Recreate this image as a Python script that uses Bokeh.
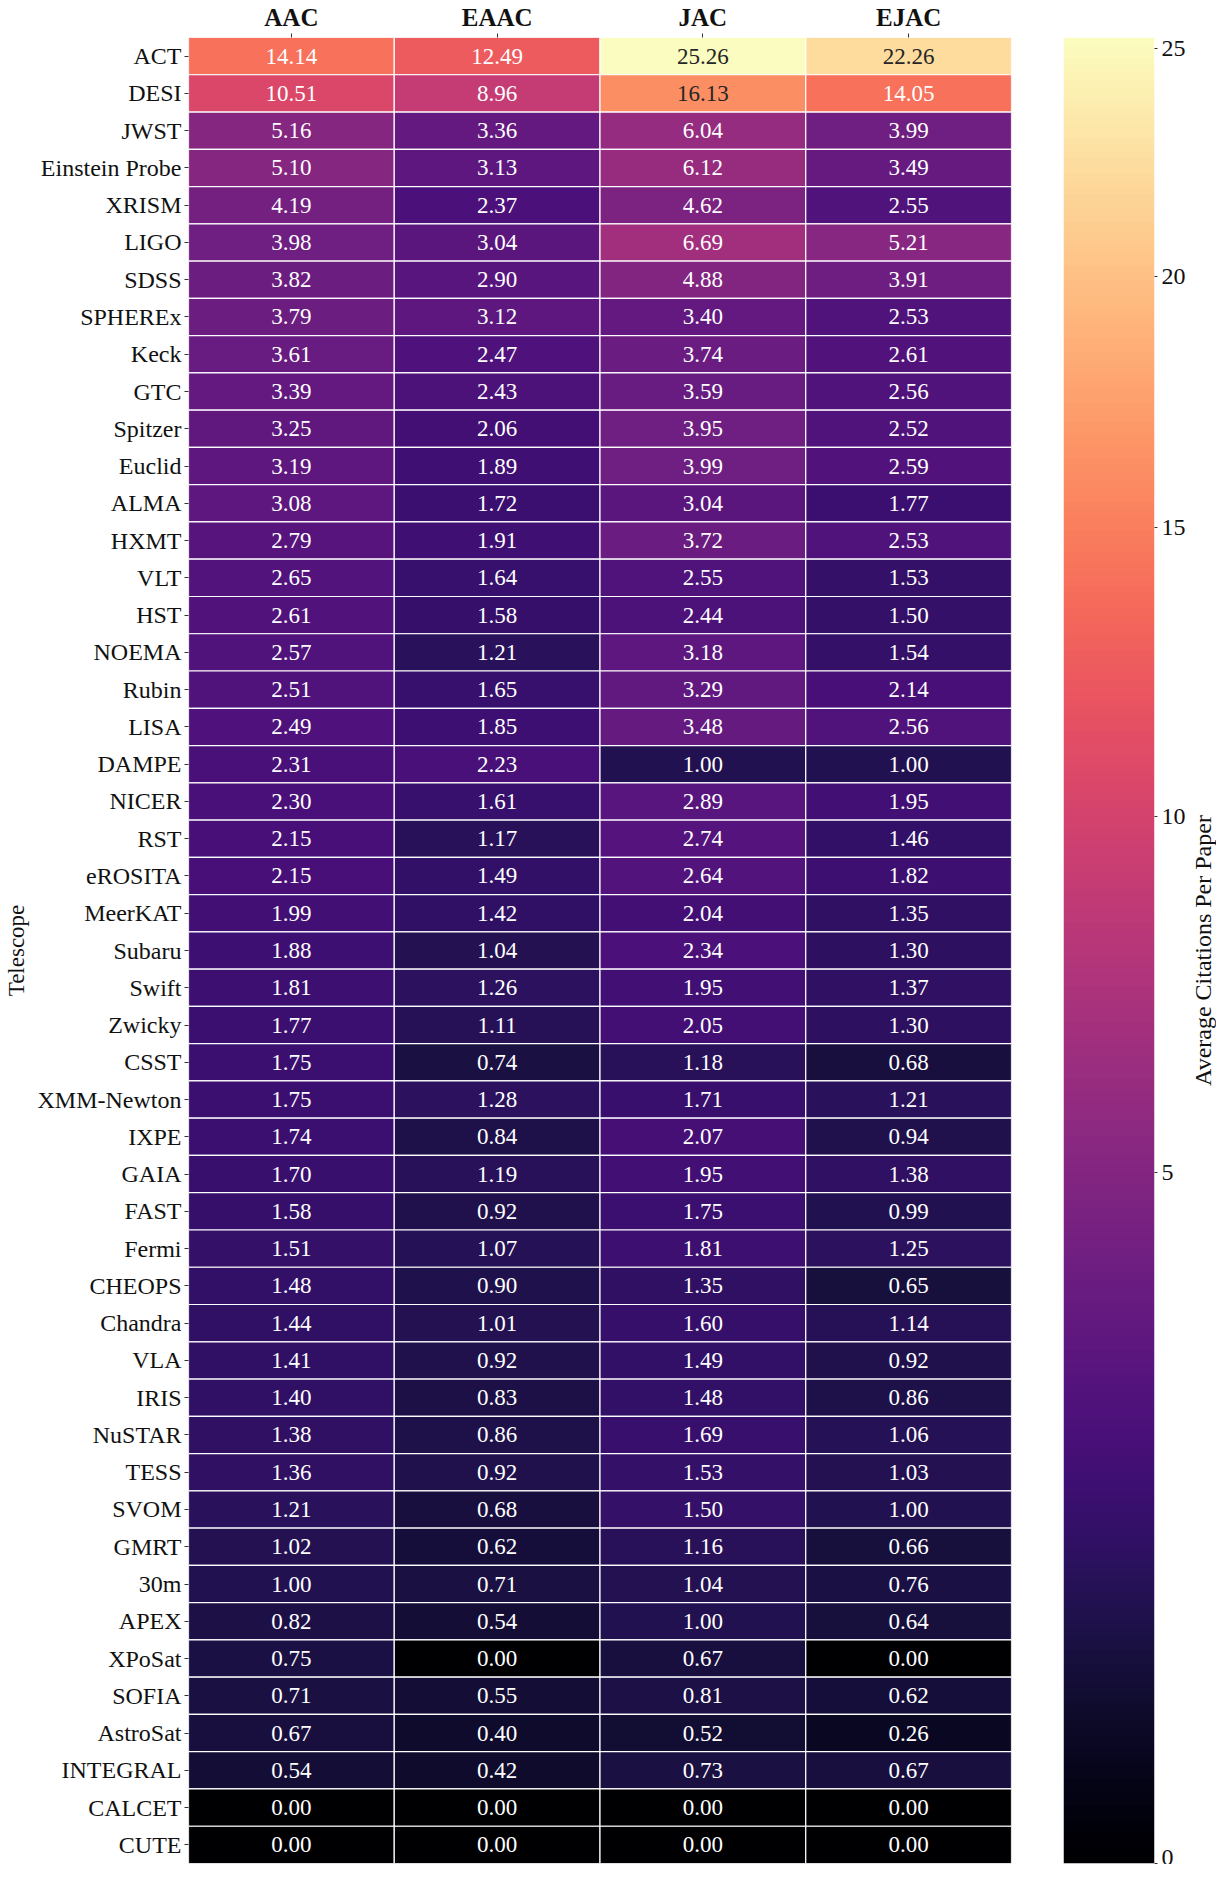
import math
import numpy as np
from bokeh.plotting import figure
from bokeh.layouts import row
from bokeh.models import ColumnDataSource, LinearColorMapper, FixedTicker, CustomJSTickFormatter
from bokeh.palettes import Magma256
from bokeh.core.properties import value
from bokeh.embed import file_html
from bokeh.resources import INLINE

# ---------------- data ----------------
columns = ["AAC", "EAAC", "JAC", "EJAC"]
telescopes = ["ACT", "DESI", "JWST", "Einstein Probe", "XRISM", "LIGO", "SDSS", "SPHEREx",
              "Keck", "GTC", "Spitzer", "Euclid", "ALMA", "HXMT", "VLT", "HST", "NOEMA",
              "Rubin", "LISA", "DAMPE", "NICER", "RST", "eROSITA", "MeerKAT", "Subaru",
              "Swift", "Zwicky", "CSST", "XMM-Newton", "IXPE", "GAIA", "FAST", "Fermi",
              "CHEOPS", "Chandra", "VLA", "IRIS", "NuSTAR", "TESS", "SVOM", "GMRT", "30m",
              "APEX", "XPoSat", "SOFIA", "AstroSat", "INTEGRAL", "CALCET", "CUTE"]
aac = [14.14, 10.51, 5.16, 5.10, 4.19, 3.98, 3.82, 3.79, 3.61, 3.39, 3.25, 3.19, 3.08, 2.79,
       2.65, 2.61, 2.57, 2.51, 2.49, 2.31, 2.30, 2.15, 2.15, 1.99, 1.88, 1.81, 1.77, 1.75,
       1.75, 1.74, 1.70, 1.58, 1.51, 1.48, 1.44, 1.41, 1.40, 1.38, 1.36, 1.21, 1.02, 1.00,
       0.82, 0.75, 0.71, 0.67, 0.54, 0.00, 0.00]
eaac = [12.49, 8.96, 3.36, 3.13, 2.37, 3.04, 2.90, 3.12, 2.47, 2.43, 2.06, 1.89, 1.72, 1.91,
        1.64, 1.58, 1.21, 1.65, 1.85, 2.23, 1.61, 1.17, 1.49, 1.42, 1.04, 1.26, 1.11, 0.74,
        1.28, 0.84, 1.19, 0.92, 1.07, 0.90, 1.01, 0.92, 0.83, 0.86, 0.92, 0.68, 0.62, 0.71,
        0.54, 0.00, 0.55, 0.40, 0.42, 0.00, 0.00]
jac = [25.26, 16.13, 6.04, 6.12, 4.62, 6.69, 4.88, 3.40, 3.74, 3.59, 3.95, 3.99, 3.04, 3.72,
       2.55, 2.44, 3.18, 3.29, 3.48, 1.00, 2.89, 2.74, 2.64, 2.04, 2.34, 1.95, 2.05, 1.18,
       1.71, 2.07, 1.95, 1.75, 1.81, 1.35, 1.60, 1.49, 1.48, 1.69, 1.53, 1.50, 1.16, 1.04,
       1.00, 0.67, 0.81, 0.52, 0.73, 0.00, 0.00]
ejac = [22.26, 14.05, 3.99, 3.49, 2.55, 5.21, 3.91, 2.53, 2.61, 2.56, 2.52, 2.59, 1.77, 2.53,
        1.53, 1.50, 1.54, 2.14, 2.56, 1.00, 1.95, 1.46, 1.82, 1.35, 1.30, 1.37, 1.30, 0.68,
        1.21, 0.94, 1.38, 0.99, 1.25, 0.65, 1.14, 0.92, 0.86, 1.06, 1.03, 1.00, 0.66, 0.76,
        0.64, 0.00, 0.62, 0.26, 0.67, 0.00, 0.00]
cbar_ticks = [0, 5, 10, 15, 20, 25]
cbar_label = "Average Citations Per Paper"
y_label = "Telescope"

# ---------------- colour norm (power norm, gamma 0.6) ----------------
series = [aac, eaac, jac, ejac]
vmin = 0.0
vmax = max(max(s) for s in series)
gamma = 0.6


def norm(v):
    return ((v - vmin) / (vmax - vmin)) ** gamma


def lum(hexc):
    rgb = [int(hexc[i:i + 2], 16) / 255 for i in (1, 3, 5)]
    lin = [c / 12.92 if c <= 0.03928 else ((c + 0.055) / 1.055) ** 2.4 for c in rgb]
    return 0.2126 * lin[0] + 0.7152 * lin[1] + 0.0722 * lin[2]


xs, ys, vals, nvals, tcols, labels = [], [], [], [], [], []
for ci, col in enumerate(columns):
    for ri, tel in enumerate(telescopes):
        v = series[ci][ri]
        n = norm(v)
        c = Magma256[min(int(n * 256), 255)]
        xs.append(col)
        ys.append(tel)
        vals.append(v)
        nvals.append(n)
        tcols.append("#262626" if lum(c) > 0.408 else "#ffffff")
        labels.append(f"{v:.2f}")

src = ColumnDataSource(dict(x=xs, y=ys, v=vals, n=nvals, tc=tcols, label=labels))
mapper = LinearColorMapper(palette=Magma256, low=0, high=1)

FONT = "Liberation Serif"

p = figure(x_range=columns, y_range=list(reversed(telescopes)),
           frame_width=823, frame_height=1826,
           output_backend="svg", toolbar_location=None, x_axis_location="above",
           min_border_left=180, min_border_top=34, min_border_bottom=4, min_border_right=20)
p.rect(x="x", y="y", width=1, height=1, source=src,
       fill_color={"field": "n", "transform": mapper}, line_color="white", line_width=1.2)
p.text(x="x", y="y", text="label", source=src, text_color="tc", text_align="center",
       text_baseline="middle", text_font=value(FONT), text_font_size="23px")

p.grid.visible = False
p.outline_line_color = None
p.background_fill_color = "white"
for ax in (p.xaxis[0], p.yaxis[0]):
    ax.axis_line_color = None
    ax.major_tick_in = 0
    ax.major_tick_out = 4
    ax.major_tick_line_color = "#333333"
    ax.minor_tick_line_color = None
    ax.major_label_text_font = FONT
    ax.major_label_text_color = "#111111"
p.xaxis.major_label_text_font_size = "25px"
p.xaxis.major_label_text_font_style = "bold"
p.xaxis.major_label_standoff = 3
p.yaxis.major_label_text_font_size = "24px"
p.yaxis.major_label_standoff = 3
p.yaxis.axis_label = y_label
p.yaxis.axis_label_text_font = FONT
p.yaxis.axis_label_text_font_size = "23px"
p.yaxis.axis_label_text_font_style = "normal"
p.yaxis.axis_label_text_color = "#111111"
p.yaxis.axis_label_standoff = 6

# ---------------- colour bar ----------------
p2 = figure(frame_width=91, frame_height=1826, x_range=(0, 1), y_range=(0, 1),
            output_backend="svg", toolbar_location=None, x_axis_location=None,
            y_axis_location="right",
            min_border_left=32, min_border_right=34, min_border_top=34, min_border_bottom=4)
grad = np.linspace(0, 1, 256).reshape(256, 1)
p2.image(image=[grad], x=0, y=0, dw=1, dh=1, color_mapper=mapper)
p2.grid.visible = False
p2.outline_line_color = None
ya = p2.yaxis[0]
ya.ticker = FixedTicker(ticks=[norm(t) for t in cbar_ticks])
ya.formatter = CustomJSTickFormatter(
    args=dict(vmax=vmax, vmin=vmin, gamma=gamma),
    code="return String(Math.round(vmin + (vmax - vmin) * Math.pow(Math.max(tick, 0), 1 / gamma)));")
ya.axis_line_color = None
ya.major_tick_in = 0
ya.major_tick_out = 3
ya.major_tick_line_color = "#333333"
ya.minor_tick_line_color = None
ya.major_label_text_font = FONT
ya.major_label_text_font_size = "24px"
ya.major_label_text_color = "#111111"
ya.major_label_standoff = 4

# ---------------- colour-bar title (reads bottom-to-top) ----------------
p3 = figure(frame_width=28, frame_height=1826, x_range=(0, 1), y_range=(0, 1),
            output_backend="svg", toolbar_location=None, x_axis_location=None,
            y_axis_location=None,
            min_border_left=0, min_border_right=0, min_border_top=34, min_border_bottom=4)
p3.grid.visible = False
p3.outline_line_color = None
p3.text(x=[0.5], y=[0.5], text=[cbar_label], angle=math.pi / 2, text_align="center",
        text_baseline="middle", text_font=value(FONT), text_font_size="24px",
        text_color="#111111")

layout = row(p, p2, p3)
open("out.html", "w").write(file_html(layout, INLINE))
